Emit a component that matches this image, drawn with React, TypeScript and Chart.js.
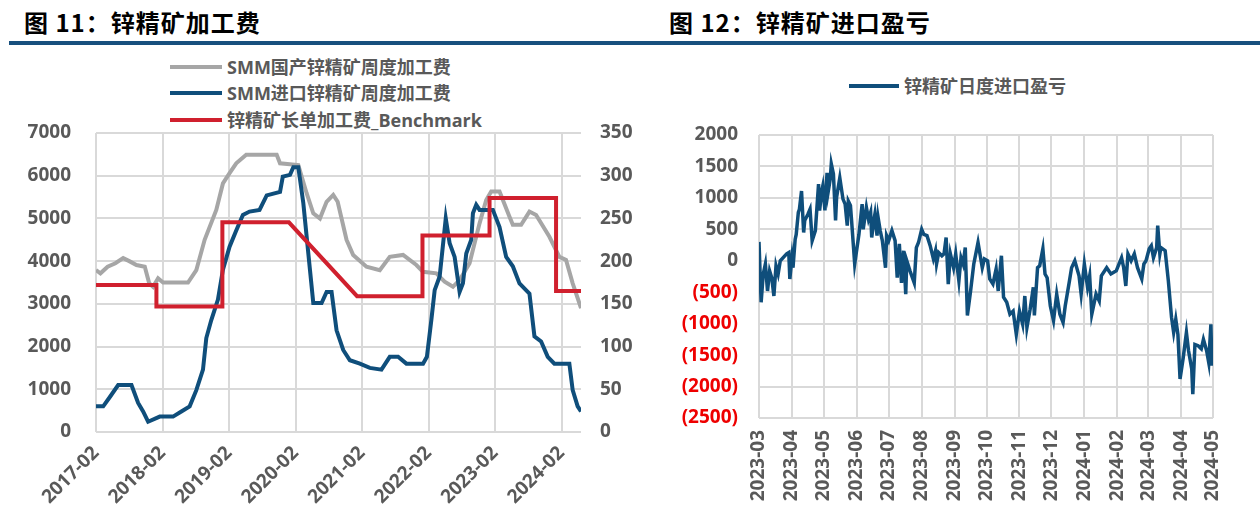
import React, { useEffect, useRef } from "react";
import { Chart, registerables } from "chart.js";
Chart.register(...registerables);

// ---------- Figure 11: zinc concentrate treatment charges ----------
// x = months since 2017-02
const tcTickMonths = [0, 12, 24, 36, 48, 60, 72, 84];
const tcTickLabels = ["2017-02", "2018-02", "2019-02", "2020-02", "2021-02", "2022-02", "2023-02", "2024-02"];
const tcLegend = ["SMM国产锌精矿周度加工费", "SMM进口锌精矿周度加工费", "锌精矿长单加工费_Benchmark"];

// domestic TC, yuan/t (left axis)
const domesticMonths = [0, 0.8, 2.1, 3.5, 4.9, 6, 7.3, 8.8, 9.6, 10.3, 11.2, 12.1, 16.6, 18.1, 19.6, 21.7, 22.9, 24.1, 25.3, 27.1, 32.6, 33.2, 36.5, 38, 39.2, 40.4, 41.6, 42.8, 43.6, 45.2, 46.4, 48.8, 51.2, 53, 55.4, 57.8, 59, 61.4, 62.9, 64.4, 65.6, 67.4, 69.2, 70.4, 71.3, 72.8, 74.6, 75.2, 76.7, 78.2, 79.4, 81.8, 83.6, 84.8, 86, 87.5];
const domesticTC = [3790, 3715, 3870, 3950, 4070, 4000, 3910, 3870, 3480, 3400, 3600, 3500, 3500, 3790, 4500, 5200, 5820, 6060, 6290, 6490, 6490, 6290, 6250, 5590, 5120, 5000, 5390, 5550, 5390, 4500, 4145, 3870, 3790, 4100, 4145, 3910, 3750, 3715, 3520, 3400, 3560, 3950, 4885, 5430, 5630, 5630, 5040, 4850, 4850, 5160, 5080, 4570, 4100, 4030, 3480, 2900];

// imported TC, $/dmt (right axis)
const importMonths = [0, 1.3, 2.5, 4, 6.4, 7.6, 8.5, 9.4, 11.5, 13.9, 15.4, 16.9, 18.1, 19.3, 19.9, 20.8, 22, 22.9, 24.1, 25.3, 26.5, 27.7, 29.5, 30.8, 33.2, 33.7, 35, 35.6, 36.5, 37.4, 38.6, 39.2, 40.7, 41.6, 42.5, 43.4, 44.6, 45.8, 47.6, 49.4, 51.5, 53, 54.5, 56, 59, 59.7, 60.5, 61.1, 62, 63.1, 63.8, 64.7, 65.6, 66.2, 66.8, 67.7, 68, 68.6, 69.2, 71.6, 72.8, 74, 75.2, 76.4, 78.2, 79.1, 80.3, 81.5, 82.7, 85.4, 86, 86.9, 87.5];
const importTC = [30, 30, 41, 55, 55, 34, 24, 12, 18, 18, 24, 30, 49, 73, 110, 131, 155, 190, 217, 236, 254, 258, 260, 277, 281, 299, 301, 310, 310, 268, 190, 151, 151, 164, 164, 119, 96, 84, 80, 75, 73, 88, 88, 80, 80, 88, 131, 166, 182, 250, 221, 205, 164, 174, 209, 225, 256, 266, 260, 260, 240, 205, 194, 174, 162, 112, 106, 88, 80, 80, 49, 30, 24];

// benchmark TC, $/dmt (right axis)
const benchmarkMonths = [0, 10.9, 10.9, 22.8, 22.8, 34.8, 47.1, 58.9, 58.9, 71, 71, 83, 83, 87.5];
const benchmarkTC = [172, 172, 147, 147, 245.5, 245.5, 159, 159, 230, 230, 274, 274, 165, 165];

// ---------- Figure 12: zinc concentrate import profit/loss ----------
// x = days since 2023-03-01
const pnlTickDays = [0, 31, 61, 92, 122, 153, 184, 214, 245, 275, 306, 337, 366, 397, 427];
const pnlTickLabels = ["2023-03", "2023-04", "2023-05", "2023-06", "2023-07", "2023-08", "2023-09", "2023-10", "2023-11", "2023-12", "2024-01", "2024-02", "2024-03", "2024-04", "2024-05"];
const pnlLegend = "锌精矿日度进口盈亏";
const pnlDays = [0, 2, 4, 6, 8, 10, 12, 14, 16, 18, 20, 26, 28, 29, 31, 32, 34, 35, 37, 38, 40, 42, 43, 46, 48, 50, 53, 56, 57, 59, 60, 62, 64, 65, 67, 68, 70, 72, 73, 76, 79, 81, 83, 84, 86, 87, 90, 94, 97, 98, 101, 103, 105, 106, 108, 109, 111, 112, 114, 116, 119, 120, 122, 125, 128, 130, 132, 134, 136, 138, 139, 142, 146, 148, 150, 153, 155, 158, 161, 164, 166, 167, 169, 172, 174, 176, 178, 180, 183, 185, 188, 190, 192, 194, 196, 199, 202, 206, 210, 212, 215, 217, 220, 223, 225, 228, 230, 233, 236, 239, 242, 245, 248, 250, 252, 255, 258, 259, 262, 264, 267, 269, 271, 274, 277, 280, 283, 286, 288, 292, 294, 297, 301, 303, 306, 309, 311, 313, 317, 320, 322, 327, 331, 336, 341, 343, 345, 347, 350, 353, 356, 360, 362, 364, 367, 369, 371, 374, 375, 377, 378, 382, 385, 388, 390, 392, 394, 396, 399, 402, 404, 407, 408, 410, 413, 416, 418, 421, 423, 425, 426];
const pnlValues = [300, -660, -210, -50, -480, -160, -270, -560, -80, -210, 0, 110, 130, -290, 50, -110, 340, 420, 770, 820, 1110, 450, 640, 740, 820, 320, 480, 1220, 800, 1110, 1190, 800, 1400, 1090, 1300, 1540, 1380, 640, 1010, 1320, 980, 900, 560, 950, 880, 660, -50, 420, 900, 500, 850, 660, 770, 370, 640, 740, 400, 690, 480, 320, -110, 400, 320, 480, 320, -270, 270, -350, 160, -530, 0, -160, -350, 210, 290, 500, 420, 400, 240, 30, 160, -50, 130, 80, 110, 370, -370, 110, -110, 110, -320, 50, -50, 210, -870, -480, -50, 290, -110, 30, 0, -290, -370, -130, -480, 80, -580, -660, -850, -800, -1170, -800, -1010, -560, -1060, -770, -420, -870, -110, -80, 190, -210, -270, -720, -950, -530, -850, -980, -720, -320, -110, 0, -240, -530, -50, -420, -240, -850, -530, -640, -240, -110, -210, -160, 50, -110, -400, 110, 0, 110, -110, -290, -50, 0, 190, 240, 50, 210, 560, 110, 210, 160, -320, -900, -1140, -930, -1170, -1880, -1540, -1140, -1430, -1720, -2120, -1330, -1350, -1400, -1250, -1430, -1620, -1010, -1670];

const FONT = '"Open Sans", "Noto Sans CJK SC", sans-serif';
const CJK_FONT = '"Noto Sans CJK SC", "Open Sans", sans-serif';
const TXT = "#595959";
const NEG_TXT = "#ee0000";
const GRID = "#d9d9d9";
const GRAY = "#a6a6a6";
const BLUE = "#0f4e7b";
const RED = "#d0202e";
const RULE = "#17507e";

const tickFont = { family: FONT, size: 19, weight: "bold" as const };

function LeftChart() {
  const ref = useRef<HTMLCanvasElement | null>(null);
  useEffect(() => {
    if (!ref.current) return;
    const chart = new Chart(ref.current, {
      type: "line",
      data: {
        datasets: [
          {
            label: tcLegend[2],
            data: benchmarkMonths.map((m, i) => ({ x: m, y: benchmarkTC[i] })),
            yAxisID: "y1",
            borderColor: RED,
            borderWidth: 4,
            pointRadius: 0,
            order: 0,
          },
          {
            label: tcLegend[1],
            data: importMonths.map((m, i) => ({ x: m, y: importTC[i] })),
            yAxisID: "y1",
            borderColor: BLUE,
            borderWidth: 4,
            pointRadius: 0,
            order: 1,
          },
          {
            label: tcLegend[0],
            data: domesticMonths.map((m, i) => ({ x: m, y: domesticTC[i] })),
            yAxisID: "y",
            borderColor: GRAY,
            borderWidth: 4,
            pointRadius: 0,
            order: 2,
          },
        ],
      },
      options: {
        responsive: false,
        animation: false,
        layout: { padding: { top: 40, left: 0, right: 0, bottom: 0 } },
        plugins: { legend: { display: false }, tooltip: { enabled: false } },
        scales: {
          x: {
            type: "linear",
            min: 0,
            max: 87.5,
            afterBuildTicks: (s: any) => {
              s.ticks = tcTickMonths.map((v) => ({ value: v }));
            },
            afterFit: (s: any) => {
              s.height = 93;
            },
            ticks: {
              autoSkip: false,
              minRotation: 45,
              maxRotation: 45,
              padding: 10,
              font: tickFont,
              color: TXT,
              callback: (v: any) => {
                const i = tcTickMonths.indexOf(Number(v));
                return i >= 0 ? tcTickLabels[i] : "";
              },
            },
            grid: { color: GRID, lineWidth: 2, drawTicks: false },
            border: { display: false },
          },
          y: {
            position: "left",
            min: 0,
            max: 7000,
            afterFit: (s: any) => {
              s.width = 96;
            },
            ticks: {
              stepSize: 1000,
              padding: 25,
              font: tickFont,
              color: TXT,
              callback: (v: any) => String(v),
            },
            grid: { color: GRID, lineWidth: 2, drawTicks: false },
            border: { display: false },
          },
          y1: {
            position: "right",
            min: 0,
            max: 350,
            afterFit: (s: any) => {
              s.width = 59;
            },
            ticks: {
              stepSize: 50,
              padding: 19,
              font: tickFont,
              color: TXT,
              callback: (v: any) => String(v),
            },
            grid: { display: false, drawTicks: false },
            border: { display: false },
          },
        },
      },
    });
    return () => chart.destroy();
  }, []);
  return (
    <canvas
      ref={ref}
      width={640}
      height={432}
      style={{ position: "absolute", left: 0, top: 93, width: 640, height: 432 }}
    />
  );
}

function RightChart() {
  const ref = useRef<HTMLCanvasElement | null>(null);
  useEffect(() => {
    if (!ref.current) return;
    const chart = new Chart(ref.current, {
      type: "line",
      data: {
        datasets: [
          {
            label: pnlLegend,
            data: pnlDays.map((d, i) => ({ x: d, y: pnlValues[i] })),
            borderColor: BLUE,
            borderWidth: 3.5,
            pointRadius: 0,
          },
        ],
      },
      options: {
        responsive: false,
        animation: false,
        layout: { padding: { top: 40, left: 0, right: 47, bottom: 0 } },
        plugins: { legend: { display: false }, tooltip: { enabled: false } },
        scales: {
          x: {
            type: "linear",
            min: 0,
            max: 427,
            afterBuildTicks: (s: any) => {
              s.ticks = pnlTickDays.map((v) => ({ value: v }));
            },
            afterFit: (s: any) => {
              s.height = 107;
            },
            ticks: {
              autoSkip: false,
              minRotation: 90,
              maxRotation: 90,
              padding: 12,
              font: tickFont,
              color: TXT,
              callback: (v: any) => {
                const i = pnlTickDays.indexOf(Number(v));
                return i >= 0 ? pnlTickLabels[i] : "";
              },
            },
            grid: { color: GRID, lineWidth: 2, drawTicks: false },
            border: { display: false },
          },
          y: {
            min: -2500,
            max: 2000,
            afterFit: (s: any) => {
              s.width = 119;
            },
            ticks: {
              stepSize: 500,
              padding: 21,
              font: tickFont,
              color: (c: any) => (c.tick && c.tick.value < 0 ? NEG_TXT : TXT),
              callback: (v: any) => (Number(v) < 0 ? `(${-Number(v)})` : String(v)),
            },
            grid: { color: GRID, lineWidth: 2, drawTicks: false },
            border: { display: false },
          },
        },
      },
    });
    return () => chart.destroy();
  }, []);
  return (
    <canvas
      ref={ref}
      width={620}
      height={430}
      style={{ position: "absolute", left: 640, top: 95, width: 620, height: 430 }}
    />
  );
}

function LegendRow({ x, y, color, text, lineLen }: { x: number; y: number; color: string; text: string; lineLen: number }) {
  return (
    <div
      style={{
        position: "absolute",
        left: x,
        top: y - 13,
        height: 26,
        display: "flex",
        alignItems: "center",
        whiteSpace: "nowrap",
      }}
    >
      <span style={{ display: "inline-block", width: lineLen, height: 4, background: color }} />
      <span
        style={{
          marginLeft: 5,
          fontFamily: FONT,
          fontWeight: 700,
          fontSize: 18,
          color: TXT,
          lineHeight: "26px",
        }}
      >
        {text}
      </span>
    </div>
  );
}

export default function App() {
  const titleStyle: React.CSSProperties = {
    position: "absolute",
    top: 7,
    fontFamily: CJK_FONT,
    fontWeight: 700,
    fontSize: 24,
    lineHeight: "30px",
    color: "#000",
    letterSpacing: 1,
    whiteSpace: "nowrap",
  };
  return (
    <div
      style={{
        position: "fixed",
        left: 0,
        top: 0,
        width: 1260,
        height: 525,
        background: "#fff",
        overflow: "hidden",
      }}
    >
      <div style={{ ...titleStyle, left: 24 }}>图 11：锌精矿加工费</div>
      <div style={{ ...titleStyle, left: 669 }}>图 12：锌精矿进口盈亏</div>
      <div style={{ position: "absolute", left: 9, top: 41, width: 1251, height: 4, background: RULE }} />

      <LegendRow x={170} y={67} color={GRAY} text={tcLegend[0]} lineLen={52} />
      <LegendRow x={170} y={93} color={BLUE} text={tcLegend[1]} lineLen={52} />
      <LegendRow x={170} y={120} color={RED} text={tcLegend[2]} lineLen={52} />
      <LegendRow x={849} y={86} color={BLUE} text={pnlLegend} lineLen={50} />

      <LeftChart />
      <RightChart />
    </div>
  );
}
